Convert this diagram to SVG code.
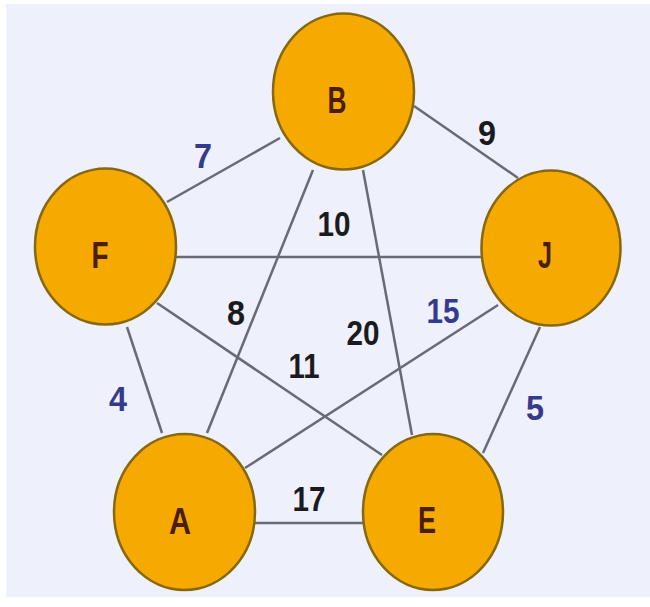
<svg xmlns="http://www.w3.org/2000/svg" width="650" height="607" viewBox="0 0 650 607">
<style>
.edge{stroke:#686b75;stroke-width:2.5;fill:none}
.node{fill:#f6a900;stroke:#86680f;stroke-width:2.5}
.nl{font-family:"Liberation Sans",Arial,sans-serif;font-weight:bold;font-size:36px;fill:#4a1e06;text-anchor:middle}
.w{font-family:"Liberation Sans",Arial,sans-serif;font-weight:bold;font-size:35px;text-anchor:middle}
.k{fill:#1a1a1f}
.b{fill:#353a8c}
</style>
<rect x="0" y="0" width="650" height="607" fill="#ffffff"/>
<rect x="6" y="4" width="644" height="593" fill="#eef0fb"/>
<g id="connectors">
<line class="edge" x1="280" y1="138" x2="167" y2="202"/>
<line class="edge" x1="414" y1="106" x2="518" y2="178"/>
<line class="edge" x1="176" y1="257" x2="482" y2="257"/>
<line class="edge" x1="313" y1="170" x2="207" y2="433"/>
<line class="edge" x1="363" y1="170" x2="412" y2="435"/>
<line class="edge" x1="157" y1="303" x2="382" y2="455"/>
<line class="edge" x1="127" y1="327" x2="162" y2="433"/>
<line class="edge" x1="498" y1="305" x2="245" y2="468"/>
<line class="edge" x1="540" y1="327" x2="483" y2="453"/>
<line class="edge" x1="255" y1="523" x2="363" y2="523"/>
</g>
<g id="labels">
<text class="w b" x="203" y="168" textLength="18" lengthAdjust="spacingAndGlyphs">7</text>
<text class="w k" x="487" y="145" textLength="18" lengthAdjust="spacingAndGlyphs">9</text>
<text class="w k" x="334" y="236" textLength="33" lengthAdjust="spacingAndGlyphs">10</text>
<text class="w k" x="236" y="325" textLength="18" lengthAdjust="spacingAndGlyphs">8</text>
<text class="w k" x="363" y="345" textLength="33" lengthAdjust="spacingAndGlyphs">20</text>
<text class="w k" x="304" y="378" textLength="31" lengthAdjust="spacingAndGlyphs">11</text>
<text class="w b" x="443" y="323" textLength="33" lengthAdjust="spacingAndGlyphs">15</text>
<text class="w b" x="118" y="411" textLength="18" lengthAdjust="spacingAndGlyphs">4</text>
<text class="w b" x="535" y="420" textLength="18" lengthAdjust="spacingAndGlyphs">5</text>
<text class="w k" x="309" y="511" textLength="33" lengthAdjust="spacingAndGlyphs">17</text>
</g>
<g id="node-B">
<ellipse class="node" cx="343.5" cy="91.5" rx="70.5" ry="78"/>
<text class="nl" x="337" y="113" textLength="19" lengthAdjust="spacingAndGlyphs">B</text>
</g>
<g id="node-F">
<ellipse class="node" cx="105.5" cy="246.5" rx="70.5" ry="78"/>
<text class="nl" x="100" y="268" textLength="17" lengthAdjust="spacingAndGlyphs">F</text>
</g>
<g id="node-J">
<ellipse class="node" cx="551" cy="248" rx="69.5" ry="77.5"/>
<text class="nl" x="545" y="268" textLength="14" lengthAdjust="spacingAndGlyphs">J</text>
</g>
<g id="node-A">
<ellipse class="node" cx="184.5" cy="512" rx="70.5" ry="78"/>
<text class="nl" x="180" y="534" textLength="22" lengthAdjust="spacingAndGlyphs">A</text>
</g>
<g id="node-E">
<ellipse class="node" cx="433" cy="512" rx="70" ry="78"/>
<text class="nl" x="427" y="533" textLength="18" lengthAdjust="spacingAndGlyphs">E</text>
</g>
</svg>
